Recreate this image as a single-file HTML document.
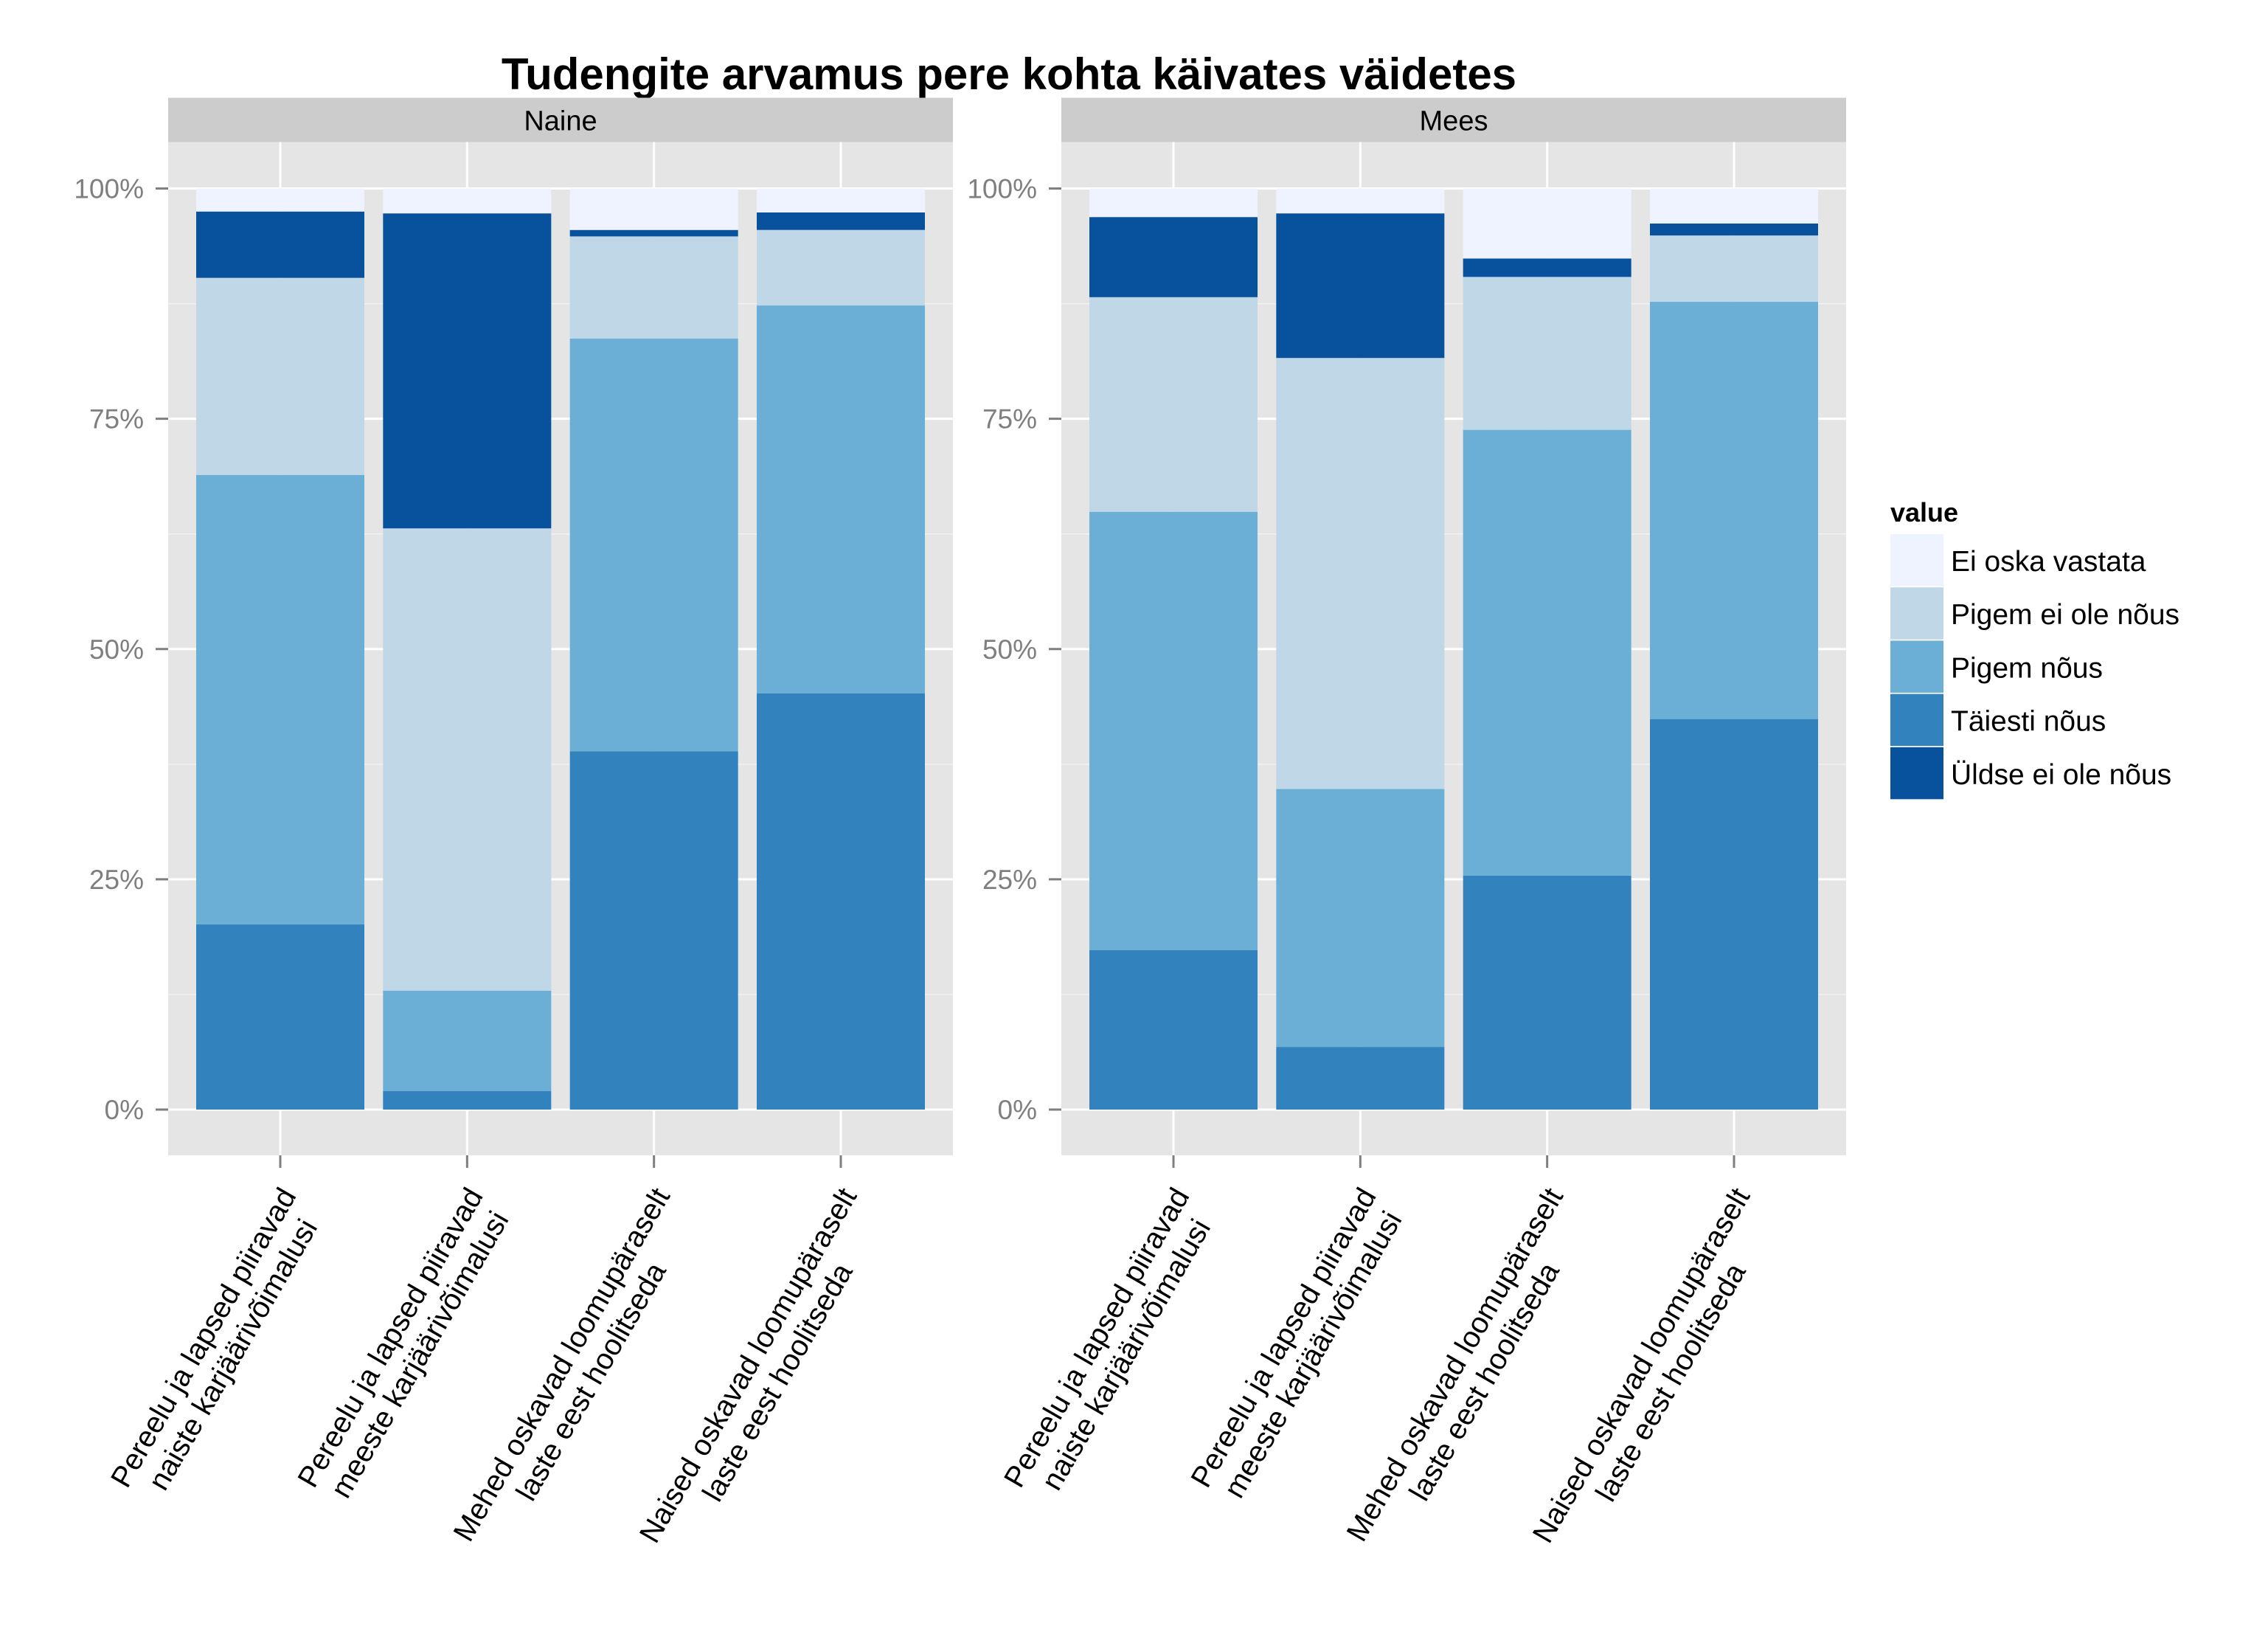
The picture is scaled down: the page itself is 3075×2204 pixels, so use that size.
<!DOCTYPE html>
<html><head><meta charset="utf-8"><style>
html,body{margin:0;padding:0;background:#fff;}
svg{display:block;font-family:"Liberation Sans",Arial,sans-serif;}
</style></head><body>
<svg id="chart" width="3075" height="2204" viewBox="0 0 3075 2204" xmlns="http://www.w3.org/2000/svg"></svg>
<script>
const categories = [
  ["Pereelu ja lapsed piiravad","naiste karjäärivõimalusi"],
  ["Pereelu ja lapsed piiravad","meeste karjäärivõimalusi"],
  ["Mehed oskavad loomupäraselt","laste eest hoolitseda"],
  ["Naised oskavad loomupäraselt","laste eest hoolitseda"]
];
const panels = ["Naine","Mees"];
const seriesNames = ["Täiesti nõus","Pigem nõus","Pigem ei ole nõus","Üldse ei ole nõus","Ei oska vastata"];
const legendOrder = ["Ei oska vastata","Pigem ei ole nõus","Pigem nõus","Täiesti nõus","Üldse ei ole nõus"];
// values per panel, per category, in stack order from bottom
const naineTaiesti = [20.1, 2.0, 38.9, 45.2];
const nainePigem   = [48.8, 10.9, 44.8, 42.1];
const naineEi      = [21.4, 50.2, 11.1, 8.2];
const naineYldse   = [7.2, 34.2, 0.7, 1.9];
const naineEiOska  = [2.5, 2.7, 4.5, 2.6];
const meesTaiesti  = [17.3, 6.8, 25.4, 42.4];
const meesPigem    = [47.6, 28.0, 48.4, 45.3];
const meesEi       = [23.3, 46.8, 16.6, 7.2];
const meesYldse    = [8.7, 15.7, 2.0, 1.3];
const meesEiOska   = [3.1, 2.7, 7.6, 3.8];
const yTicks = [0, 25, 50, 75, 100];
const yTickLabels = ["0%","25%","50%","75%","100%"];

const colors = {"Täiesti nõus":"#3182BD","Pigem nõus":"#6BAED6","Pigem ei ole nõus":"#BFD7E7","Üldse ei ole nõus":"#08519C","Ei oska vastata":"#EFF3FF"};
const panelData = [
  [naineTaiesti, nainePigem, naineEi, naineYldse, naineEiOska],
  [meesTaiesti, meesPigem, meesEi, meesYldse, meesEiOska]
];
const NS = "http://www.w3.org/2000/svg";
const svg = document.getElementById("chart");
function mk(tag, attrs, parent){
  const e = document.createElementNS(NS, tag);
  for (const k in attrs) e.setAttribute(k, attrs[k]);
  (parent||svg).appendChild(e);
  return e;
}
const panelX = [228, 1439];
const panelW = 1064;
const stripTop = 132.5, stripBot = 192.5, panelBot = 1566;
const y0 = 1504, y100 = 255.5;
function yScale(v){ return y0 + (y100 - y0) * v / 100; }
const step = panelW / 4.2;
function xCenter(p, i){ return panelX[p] + step * (0.6 + i); }
const barW = step * 0.9;

const title = mk("text", {x:1368, y:121, "text-anchor":"middle", "font-size":60, "font-weight":"bold", fill:"#000"});


title.textContent = "Tudengite arvamus pere kohta käivates väidetes";

panels.forEach((pname, p) => {
  const g = mk("g", {});
  
  
  const strip = mk("rect", {x:panelX[p], y:stripTop, width:panelW, height:stripBot-stripTop, fill:"#CCCCCC"}, g);
  
  
  const st = mk("text", {x:panelX[p]+panelW/2, y:stripTop+44, "text-anchor":"middle", "font-size":38, fill:"#000"}, g);
  
  
  st.textContent = pname;
  const bg = mk("rect", {x:panelX[p], y:stripBot, width:panelW, height:panelBot-stripBot, fill:"#E5E5E5"}, g);
  
  
  for (let k = 0; k < yTicks.length - 1; k++) {
    const mv = (yTicks[k] + yTicks[k+1]) / 2;
    const ml = mk("line", {x1:panelX[p], x2:panelX[p]+panelW, y1:yScale(mv), y2:yScale(mv), stroke:"#F2F2F2", "stroke-width":1.5}, g);
    
    
  }
  yTicks.forEach((t, k) => {
    const gl = mk("line", {x1:panelX[p], x2:panelX[p]+panelW, y1:yScale(t), y2:yScale(t), stroke:"#FFFFFF", "stroke-width":3}, g);
    
    
    const tk = mk("line", {x1:panelX[p]-17, x2:panelX[p], y1:yScale(t), y2:yScale(t), stroke:"#7F7F7F", "stroke-width":3}, g);
    
    
    const tl = mk("text", {x:panelX[p]-33, y:yScale(t)+13, "text-anchor":"end", "font-size":37, fill:"#7F7F7F"}, g);
    
    
    tl.textContent = yTickLabels[k];
  });
  categories.forEach((c, i) => {
    const vl = mk("line", {x1:xCenter(p,i), x2:xCenter(p,i), y1:stripBot, y2:panelBot, stroke:"#FFFFFF", "stroke-width":3}, g);
    
    
  });
  categories.forEach((c, i) => {
    let cum = 0;
    panelData[p].forEach((arr, s) => {
      const v = arr[i];
      const r = mk("rect", {x:xCenter(p,i)-barW/2, y:yScale(cum+v), width:barW, height:yScale(cum)-yScale(cum+v), fill:colors[seriesNames[s]]}, g);
      
      
      cum += v;
    });
    const xt = mk("line", {x1:xCenter(p,i), x2:xCenter(p,i), y1:panelBot, y2:panelBot+17, stroke:"#7F7F7F", "stroke-width":3}, g);
    
    
    const lg = mk("g", {transform:"translate(" + (xCenter(p,i)-6) + ",1604) rotate(-60)"}, g);
    
    
    const t1 = mk("text", {x:0, y:33, "text-anchor":"middle", "font-size":40, fill:"#000"}, lg);
    t1.textContent = c[0];
    const t2 = mk("text", {x:0, y:79, "text-anchor":"middle", "font-size":40, fill:"#000"}, lg);
    t2.textContent = c[1];
    const w = Math.max(t1.getComputedTextLength(), t2.getComputedTextLength());
    t1.setAttribute("x", -w/2);
    t2.setAttribute("x", -w/2);
  });
});

const lg = mk("g", {});


const lt = mk("text", {x:2563, y:707, "font-size":36, "font-weight":"bold", fill:"#000"}, lg);


lt.textContent = "value";
legendOrder.forEach((name, k) => {
  const y = 724 + k * 72.2;
  const key = mk("rect", {x:2563, y:y, width:72, height:70.5, fill:colors[name]}, lg);
  
  
  const tx = mk("text", {x:2645, y:y+50, "font-size":39, fill:"#000"}, lg);
  
  
  tx.textContent = name;
});
</script>
</body></html>
